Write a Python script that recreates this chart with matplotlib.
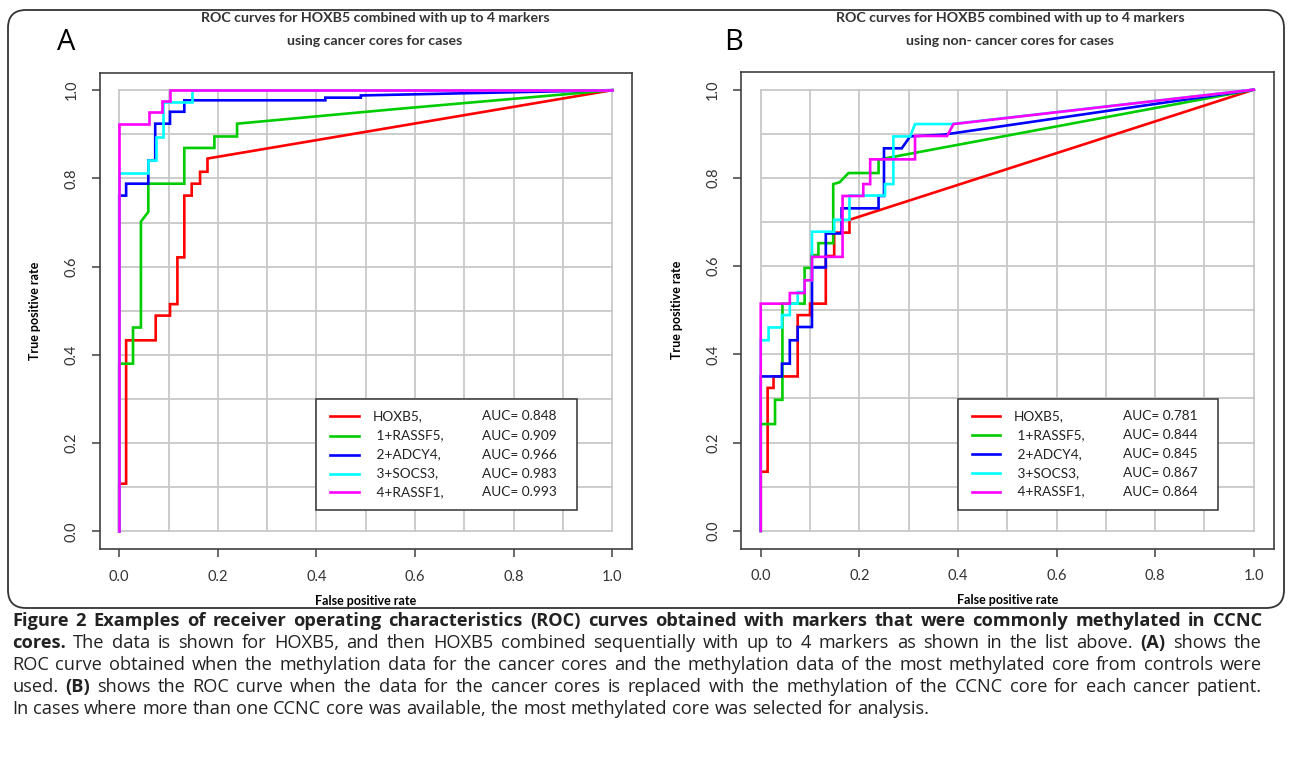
import matplotlib
matplotlib.use("Agg")
import matplotlib.pyplot as plt
from matplotlib.patches import FancyBboxPatch, Rectangle
from matplotlib.transforms import IdentityTransform

W, H = 1292, 759

# ---- data: ROC curve vertices ----
colors = ["#ff0000", "#00cd00", "#0000ff", "#00ffff", "#ff00ff"]
names = ["HOXB5,", " 1+RASSF5,", " 2+ADCY4,", " 3+SOCS3,", " 4+RASSF1,"]

# panel A: cancer cores
a_auc = [0.848, 0.909, 0.966, 0.983, 0.993]
a_hoxb5_x = [0, 0, 0.014, 0.014, 0.074, 0.074, 0.103, 0.103, 0.118, 0.118, 0.132, 0.132,
             0.147, 0.147, 0.164, 0.164, 0.179, 0.179, 0.55, 1.0]
a_hoxb5_y = [0, 0.108, 0.108, 0.433, 0.433, 0.489, 0.489, 0.515, 0.515, 0.621, 0.621, 0.761,
             0.761, 0.788, 0.788, 0.815, 0.815, 0.845, 0.915, 1.0]
a_rassf5_x = [0, 0, 0.028, 0.028, 0.044, 0.044, 0.059, 0.059, 0.132, 0.132, 0.193, 0.193,
              0.239, 0.239, 0.55, 1.0]
a_rassf5_y = [0, 0.38, 0.38, 0.462, 0.462, 0.702, 0.724, 0.788, 0.788, 0.869, 0.869, 0.895,
              0.895, 0.924, 0.956, 1.0]
a_adcy4_x = [0, 0, 0.014, 0.014, 0.059, 0.059, 0.073, 0.073, 0.103, 0.103, 0.132, 0.132,
             0.418, 0.418, 0.49, 0.49, 1.0]
a_adcy4_y = [0, 0.761, 0.761, 0.788, 0.788, 0.841, 0.841, 0.924, 0.924, 0.951, 0.951, 0.977,
             0.977, 0.983, 0.983, 0.988, 1.0]
a_socs3_x = [0, 0, 0.059, 0.059, 0.074, 0.074, 0.089, 0.089, 0.147, 0.147, 1.0]
a_socs3_y = [0, 0.813, 0.813, 0.841, 0.841, 0.894, 0.894, 0.974, 0.974, 1.0, 1.0]
a_rassf1_x = [0, 0, 0.06, 0.06, 0.087, 0.087, 0.103, 0.103, 1.0]
a_rassf1_y = [0, 0.924, 0.924, 0.951, 0.951, 0.976, 0.976, 1.0, 1.0]

# panel B: non-cancer (CCNC) cores
b_auc = [0.781, 0.844, 0.845, 0.867, 0.864]
b_hoxb5_x = [0, 0, 0.014, 0.014, 0.026, 0.026, 0.075, 0.075, 0.1, 0.1, 0.132, 0.132,
             0.149, 0.149, 0.18, 0.18, 1.0]
b_hoxb5_y = [0, 0.134, 0.134, 0.324, 0.324, 0.35, 0.35, 0.489, 0.489, 0.515, 0.515, 0.623,
             0.623, 0.676, 0.676, 0.705, 1.0]
b_rassf5_x = [0, 0, 0.029, 0.029, 0.044, 0.044, 0.089, 0.089, 0.103, 0.103, 0.117, 0.117,
              0.147, 0.147, 0.16, 0.178, 0.239, 0.239, 0.256, 1.0]
b_rassf5_y = [0, 0.242, 0.242, 0.297, 0.297, 0.515, 0.515, 0.596, 0.596, 0.625, 0.625, 0.652,
              0.652, 0.786, 0.79, 0.811, 0.811, 0.841, 0.845, 1.0]
b_adcy4_x = [0, 0, 0.043, 0.043, 0.059, 0.059, 0.075, 0.075, 0.104, 0.104, 0.132, 0.132,
             0.164, 0.164, 0.239, 0.239, 0.25, 0.25, 0.286, 0.303, 0.371, 1.0]
b_adcy4_y = [0, 0.35, 0.35, 0.379, 0.379, 0.432, 0.432, 0.462, 0.462, 0.597, 0.597, 0.674,
             0.674, 0.731, 0.731, 0.759, 0.759, 0.867, 0.867, 0.894, 0.898, 1.0]
b_socs3_x = [0, 0, 0.016, 0.016, 0.043, 0.043, 0.059, 0.059, 0.075, 0.075, 0.089, 0.089,
             0.104, 0.104, 0.149, 0.149, 0.18, 0.18, 0.252, 0.252, 0.269, 0.269, 0.303,
             0.313, 0.388, 1.0]
b_socs3_y = [0, 0.432, 0.432, 0.461, 0.461, 0.489, 0.489, 0.515, 0.515, 0.541, 0.541, 0.568,
             0.568, 0.678, 0.678, 0.705, 0.705, 0.76, 0.76, 0.786, 0.786, 0.894, 0.894,
             0.922, 0.922, 1.0]
b_rassf1_x = [0, 0, 0.059, 0.059, 0.089, 0.089, 0.104, 0.104, 0.166, 0.166, 0.208, 0.208,
              0.222, 0.222, 0.313, 0.313, 0.378, 0.391, 1.0]
b_rassf1_y = [0, 0.515, 0.515, 0.539, 0.539, 0.568, 0.568, 0.621, 0.621, 0.759, 0.759, 0.786,
              0.786, 0.842, 0.842, 0.895, 0.895, 0.922, 1.0]

a_curves = [(a_hoxb5_x, a_hoxb5_y), (a_rassf5_x, a_rassf5_y), (a_adcy4_x, a_adcy4_y),
            (a_socs3_x, a_socs3_y), (a_rassf1_x, a_rassf1_y)]
b_curves = [(b_hoxb5_x, b_hoxb5_y), (b_rassf5_x, b_rassf5_y), (b_adcy4_x, b_adcy4_y),
            (b_socs3_x, b_socs3_y), (b_rassf1_x, b_rassf1_y)]

ticks = [0.0, 0.2, 0.4, 0.6, 0.8, 1.0]
grid_pos = [i / 10 for i in range(11)]

CHART_FONT = ["Lato", "DejaVu Sans"]
CAP_FONT = ["Open Sans", "DejaVu Sans"]


def draw_panel(ax, curves, aucs, title2, title_x):
    ax.set_xlim(-0.04, 1.04)
    ax.set_ylim(-0.04, 1.04)
    for g in grid_pos:
        ax.axvline(g, ymin=0.04 / 1.08, ymax=1.04 / 1.08, color="#c8c8c8", lw=1.3, zorder=1)
        ax.axhline(g, xmin=0.04 / 1.08, xmax=1.04 / 1.08, color="#c8c8c8", lw=1.3, zorder=1)
    for (x, y), c in zip(curves, colors):
        ax.plot(x, y, color=c, lw=1.9, zorder=3, solid_joinstyle="miter")
    ax.set_xticks(ticks)
    ax.set_yticks(ticks)
    ax.set_xticklabels(["%.1f" % t for t in ticks], family=CHART_FONT, fontsize=10.5, color="#333333")
    ax.set_yticklabels(["%.1f" % t for t in ticks], family=CHART_FONT, fontsize=10.5, color="#333333",
                       rotation=90, va="center")
    ax.tick_params(direction="out", length=6, width=1.1, color="#404040", pad=9)
    for s in ax.spines.values():
        s.set_color("#404040")
        s.set_linewidth(1.2)
    ax.set_xlabel("False positive rate", family=CHART_FONT, fontsize=9, fontweight="bold", labelpad=8)
    ax.set_ylabel("True positive rate", family=CHART_FONT, fontsize=9, fontweight="bold", labelpad=17)

    # legend box
    ax.add_patch(Rectangle((0.4, 0.048), 0.528, 0.251, fill=True, facecolor="white",
                           edgecolor="#333333", lw=1.1, zorder=4))
    row_y = [0.261, 0.217, 0.174, 0.131, 0.089]
    for ry, c, n, a in zip(row_y, colors, names, aucs):
        ax.plot([0.428, 0.486], [ry, ry], color=c, lw=1.9, zorder=5)
        ax.text(0.514, ry, n, family=CHART_FONT, fontsize=9.8, va="center", color="#222222", zorder=5)
        ax.text(0.735, ry, "AUC= %.3f" % a, family=CHART_FONT, fontsize=9.8, va="center",
                color="#222222", zorder=5)

    fig.text(title_x / W, 1 - 18 / H, "ROC curves for HOXB5 combined with up to 4 markers",
             ha="center", va="center", family=CHART_FONT, fontsize=10.2, fontweight="bold",
             color="#333333")
    fig.text(title_x / W, 1 - 41 / H, title2, ha="center", va="center", family=CHART_FONT,
             fontsize=10.2, fontweight="bold", color="#333333")


fig = plt.figure(figsize=(W / 100, H / 100), dpi=100)
axA = fig.add_axes([99.5 / W, 1 - 549 / H, 532.5 / W, 476.5 / H])
axB = fig.add_axes([741 / W, 1 - 548.5 / H, 532.5 / W, 476.5 / H])
draw_panel(axA, a_curves, a_auc, "using cancer cores for cases", 375)
draw_panel(axB, b_curves, b_auc, "using non- cancer cores for cases", 1010)

fig.text(66 / W, 1 - 42 / H, "A", ha="center", va="center", family=CAP_FONT, fontsize=21)
fig.text(734 / W, 1 - 42 / H, "B", ha="center", va="center", family=CAP_FONT, fontsize=21)

# rounded frame around the figure panels
fig.patches.append(FancyBboxPatch((8, H - 608), 1276, 598, boxstyle="round,pad=0,rounding_size=18",
                                  transform=IdentityTransform(), fill=False, edgecolor="#333333",
                                  lw=1.3))

# caption with bold/regular runs
caption = [
    [("Figure 2 Examples of receiver operating characteristics (ROC) curves obtained with markers "
      "that were commonly methylated in CCNC", True)],
    [("cores.", True),
     ("The data is shown for HOXB5, and then HOXB5 combined sequentially with up to 4 markers as "
      "shown in the list above.", False),
     ("(A)", True), ("shows the", False)],
    [("ROC curve obtained when the methylation data for the cancer cores and the methylation data "
      "of the most methylated core from controls were", False)],
    [("used.", False), ("(B)", True),
     ("shows the ROC curve when the data for the cancer cores is replaced with the methylation of "
      "the CCNC core for each cancer patient.", False)],
    [("In cases where more than one CCNC core was available, the most methylated core was selected "
      "for analysis.", False)],
]
justify = [True, True, True, True, False]
line_y = [621, 643, 665, 687, 709]
x_left, x_right = 12, 1262
renderer = fig.canvas.get_renderer()


def text_w(s, bold, size):
    t = fig.text(0, 0, s, fontsize=size, family=CAP_FONT, fontweight="bold" if bold else "normal")
    w = t.get_window_extent(renderer).width
    t.remove()
    return w


# pick the caption size from the width of the third line, then justify the block
cap_size = 11 * 1215 / text_w(caption[2][0][0], False, 11)
space_w = {b: text_w("x x", b, cap_size) - text_w("xx", b, cap_size) for b in (True, False)}
for runs, ly, just in zip(caption, line_y, justify):
    words = [(w, bold) for s, bold in runs for w in s.split(" ")]
    widths = [text_w(w, b, cap_size) for w, b in words]
    if just:
        gap = (x_right - x_left - sum(widths)) / (len(words) - 1)
    else:
        gap = space_w[False]
    x = x_left
    for (w, bold), ww in zip(words, widths):
        fig.text(x, H - ly, w, transform=IdentityTransform(), fontsize=cap_size, family=CAP_FONT,
                 fontweight="bold" if bold else "normal", va="center", color="#222222")
        x += ww + gap

fig.savefig("out.png", dpi=100)
